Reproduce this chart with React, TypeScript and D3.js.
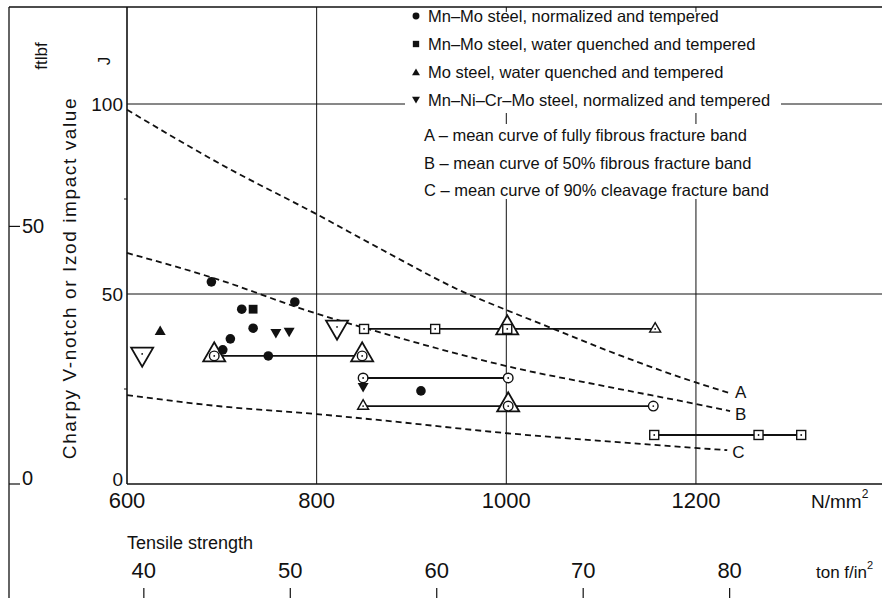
import React, { useEffect, useRef } from 'react';
import * as d3 from 'd3';

// tensile strength, N/mm2  /  impact value, J
const curveA: [number, number][] = [[600, 98.5], [700, 84], [800, 71], [870, 61.5], [955, 50.5], [1000, 45.8], [1045, 41.3], [1113, 34.5], [1199, 26.8], [1236, 23.9]];
const curveB: [number, number][] = [[600, 60.8], [700, 53.5], [782, 46.3], [888, 38.4], [999, 31.1], [1113, 25.3], [1199, 21.1], [1236, 19.2]];
const curveC: [number, number][] = [[600, 23.4], [700, 20.4], [800, 18.4], [867, 16.8], [999, 13.4], [1113, 11.1], [1199, 9.5], [1233, 8.9]];
const curveNames = ['A', 'B', 'C'];

// filled symbols
const mnMoNormalized: [number, number][] = [[689, 53.2], [721, 46], [777, 47.9], [733, 41], [709, 38.2], [701, 35.3], [749, 33.7], [910, 24.5]];
const mnMoQuenched: [number, number][] = [[733, 46]];
const moQuenched: [number, number][] = [[635, 40.3]];
const mnNiCrMoNormalized: [number, number][] = [[757, 39.7], [771, 40], [849, 25.5]];

// scatter bands (horizontal lines) with open symbols
const bandLevel = [40.8, 33.7, 27.9, 20.5, 12.9];
const bandFrom = [850, 692, 849, 849, 1156];
const bandTo = [1157, 848, 1002, 1155, 1311];
const openSquares: [number, number][] = [[850, 40.8], [925, 40.8], [1001, 40.8], [1156, 12.9], [1266, 12.9], [1311, 12.9]];
const openCircles: [number, number][] = [[692, 33.7], [848, 33.7], [849, 27.9], [1002, 27.9], [1002, 20.5], [1155, 20.5]];
const smallTriangles: [number, number][] = [[1157, 40.8], [849, 20.5]];
const bigTriangles: [number, number][] = [[1001, 40.8], [692, 33.7], [848, 33.7], [1002, 20.5]];
const bigDownTriangles: [number, number][] = [[616, 33.7], [821.5, 40.8]];

const xTicks = [600, 800, 1000, 1200];
const jTicks = [0, 50, 100];
const ftlbfTicks = [0, 50];
const tonfTicks = [40, 50, 60, 70, 80];

const legendSymbols = ['circle', 'square', 'triangle', 'triangleDown'];
const legendLabels = [
  'Mn\u2013Mo steel, normalized and tempered',
  'Mn\u2013Mo steel, water quenched and tempered',
  'Mo steel, water quenched and tempered',
  'Mn\u2013Ni\u2013Cr\u2013Mo steel, normalized and tempered',
];
const curveLabels = [
  'A \u2013 mean curve of fully fibrous fracture band',
  'B \u2013 mean curve of 50% fibrous fracture band',
  'C \u2013 mean curve of 90% cleavage fracture band',
];

const W = 882;
const H = 598;
const FONT = '"Liberation Sans", Arial, Helvetica, sans-serif';
const TONF = 15.444; // N/mm2 per tonf/in2
const FTLBF = 1.35582; // J per ftlbf

export default function App() {
  const ref = useRef<SVGSVGElement | null>(null);

  useEffect(() => {
    if (!ref.current) return;
    const svg = d3.select(ref.current);
    svg.selectAll('*').remove();

    const x = d3.scaleLinear().domain([600, 1400]).range([127, 885.6]);
    const y = d3.scaleLinear().domain([0, 100]).range([484, 104]);
    const x0 = x(600);
    const y0 = y(0);

    svg.append('rect').attr('width', W).attr('height', H).attr('fill', '#fff');

    const ink = '#111';

    // outer frame
    svg.append('line').attr('x1', 9).attr('x2', 9).attr('y1', 7).attr('y2', H).attr('stroke', ink).attr('stroke-width', 1.3);
    svg.append('line').attr('x1', 9).attr('x2', W).attr('y1', 7).attr('y2', 7).attr('stroke', ink).attr('stroke-width', 1.3);

    // grid
    const grid = svg.append('g').attr('stroke', ink).attr('stroke-width', 1);
    xTicks.slice(1).forEach(v => {
      grid.append('line').attr('x1', x(v)).attr('x2', x(v)).attr('y1', 7).attr('y2', y0);
    });
    grid.append('line').attr('x1', x0).attr('x2', W).attr('y1', y(50)).attr('y2', y(50));
    grid.append('line').attr('x1', x0).attr('x2', W).attr('y1', y(100)).attr('y2', y(100));

    // legend blocks hide the grid behind text
    svg.append('rect').attr('x', 405).attr('y', 12).attr('width', W - 405).attr('height', 83).attr('fill', '#fff');
    svg.append('rect').attr('x', 405).attr('y', 90).attr('width', 376).attr('height', 23).attr('fill', '#fff');
    svg.append('rect').attr('x', 418).attr('y', 124).attr('width', W - 418).attr('height', 75).attr('fill', '#fff');

    // axes lines
    svg.append('line').attr('x1', x0).attr('x2', x0).attr('y1', 7).attr('y2', y0).attr('stroke', ink).attr('stroke-width', 1.6);
    svg.append('line').attr('x1', x0).attr('x2', W).attr('y1', y0).attr('y2', y0).attr('stroke', ink).attr('stroke-width', 1.6);

    const txt = (px: number, py: number, s: string, size: number, anchor = 'start') =>
      svg.append('text').attr('x', px).attr('y', py).attr('font-family', FONT).attr('font-size', size)
        .attr('fill', ink).attr('text-anchor', anchor).attr('dominant-baseline', 'central').text(s);

    // J axis
    jTicks.forEach(v => {
      txt(123, Math.min(y(v), y0 - 5), String(v), 19, 'end');
    });
    [25, 75].forEach(v => {
      svg.append('line').attr('x1', x0 - 3).attr('x2', x0).attr('y1', y(v)).attr('y2', y(v)).attr('stroke', ink);
    });
    svg.append('text').attr('transform', `translate(104,61) rotate(-90)`).attr('font-family', FONT).attr('font-size', 17)
      .attr('text-anchor', 'middle').attr('dominant-baseline', 'central').attr('fill', ink).text('J');

    // ft lbf axis
    ftlbfTicks.forEach(v => {
      const py = y(v * FTLBF);
      svg.append('line').attr('x1', 9).attr('x2', 20).attr('y1', py).attr('y2', py).attr('stroke', ink).attr('stroke-width', 1.2);
      txt(22, Math.min(py, y0 - 6), String(v), 20);
    });
    svg.append('text').attr('transform', `translate(41,56) rotate(-90)`).attr('font-family', FONT).attr('font-size', 17)
      .attr('text-anchor', 'middle').attr('dominant-baseline', 'central').attr('fill', ink).text('ftlbf');

    svg.append('text').attr('transform', `translate(69,278) rotate(-90)`).attr('font-family', FONT).attr('font-size', 19)
      .attr('letter-spacing', 1.6)
      .attr('text-anchor', 'middle').attr('dominant-baseline', 'central').attr('fill', ink)
      .text('Charpy V-notch or Izod impact value');

    // x axis
    xTicks.forEach(v => txt(x(v), 500, String(v), 22, 'middle'));
    const nmm = txt(811, 501, 'N/mm', 19);
    nmm.append('tspan').attr('dy', -7).attr('font-size', 12).text('2');

    txt(127, 543, 'Tensile strength', 18);
    tonfTicks.forEach(v => {
      const px = x(v * TONF);
      txt(px, 570, String(v), 22, 'middle');
      svg.append('line').attr('x1', px).attr('x2', px).attr('y1', 588).attr('y2', H).attr('stroke', ink).attr('stroke-width', 1.2);
    });
    const tonf = txt(816, 572, 'ton f/in', 17);
    tonf.append('tspan').attr('dy', -7).attr('font-size', 11).text('2');

    // curves
    const line = d3.line<[number, number]>().x(d => x(d[0])).y(d => y(d[1])).curve(d3.curveMonotoneX);
    const labelDy = [-1, 3, 2];
    [curveA, curveB, curveC].forEach((c, i) => {
      svg.append('path').attr('d', line(c)).attr('fill', 'none').attr('stroke', ink)
        .attr('stroke-width', 1.8).attr('stroke-dasharray', '6,4');
      const last = c[c.length - 1];
      txt(x(last[0]) + 5, y(last[1]) + labelDy[i], curveNames[i], 17);
    });

    // bands
    bandLevel.forEach((v, i) => {
      svg.append('line').attr('x1', x(bandFrom[i])).attr('x2', x(bandTo[i])).attr('y1', y(v)).attr('y2', y(v))
        .attr('stroke', ink).attr('stroke-width', 1.8);
    });

    const dot = (px: number, py: number) =>
      svg.append('circle').attr('cx', px).attr('cy', py).attr('r', 0.9).attr('fill', ink);
    const triPath = (s: number, down = false) => {
      const h = s * Math.sqrt(3) / 2;
      return down
        ? `M${-s / 2},${-h / 3} L${s / 2},${-h / 3} L0,${(2 * h) / 3} Z`
        : `M${-s / 2},${h / 3} L${s / 2},${h / 3} L0,${(-2 * h) / 3} Z`;
    };

    bigTriangles.forEach(([a, b]) => {
      svg.append('path').attr('d', triPath(22)).attr('transform', `translate(${x(a)},${y(b) - 1})`)
        .attr('fill', '#fff').attr('stroke', ink).attr('stroke-width', 1.8);
    });
    bigDownTriangles.forEach(([a, b]) => {
      svg.append('path').attr('d', triPath(22, true)).attr('transform', `translate(${x(a)},${y(b) - 2})`)
        .attr('fill', '#fff').attr('stroke', ink).attr('stroke-width', 1.8);
      dot(x(a), y(b) - 2);
    });
    smallTriangles.forEach(([a, b]) => {
      svg.append('path').attr('d', triPath(11)).attr('transform', `translate(${x(a)},${y(b)})`)
        .attr('fill', '#fff').attr('stroke', ink).attr('stroke-width', 1.4);
      dot(x(a), y(b));
    });
    openSquares.forEach(([a, b]) => {
      svg.append('rect').attr('x', x(a) - 4.5).attr('y', y(b) - 4.5).attr('width', 9).attr('height', 9)
        .attr('fill', '#fff').attr('stroke', ink).attr('stroke-width', 1.4);
      dot(x(a), y(b));
    });
    openCircles.forEach(([a, b]) => {
      svg.append('circle').attr('cx', x(a)).attr('cy', y(b)).attr('r', 4.8)
        .attr('fill', '#fff').attr('stroke', ink).attr('stroke-width', 1.4);
      dot(x(a), y(b));
    });

    // filled symbols
    const drawSymbol = (kind: string, px: number, py: number, s = 1) => {
      if (kind === 'circle') svg.append('circle').attr('cx', px).attr('cy', py).attr('r', 4.8 * s).attr('fill', ink);
      if (kind === 'square') svg.append('rect').attr('x', px - 4.4 * s).attr('y', py - 4.4 * s)
        .attr('width', 8.8 * s).attr('height', 8.8 * s).attr('fill', ink);
      if (kind === 'triangle') svg.append('path').attr('d', triPath(11 * s)).attr('transform', `translate(${px},${py + 1})`).attr('fill', ink);
      if (kind === 'triangleDown') svg.append('path').attr('d', triPath(11 * s, true)).attr('transform', `translate(${px},${py - 1})`).attr('fill', ink);
    };
    mnMoNormalized.forEach(([a, b]) => drawSymbol('circle', x(a), y(b)));
    mnMoQuenched.forEach(([a, b]) => drawSymbol('square', x(a), y(b)));
    moQuenched.forEach(([a, b]) => drawSymbol('triangle', x(a), y(b)));
    mnNiCrMoNormalized.forEach(([a, b]) => drawSymbol('triangleDown', x(a), y(b)));

    // legend
    const legendY = [16, 44, 72, 100];
    legendLabels.forEach((s, i) => {
      drawSymbol(legendSymbols[i], 416, legendY[i], 0.72);
      txt(428, legendY[i], s, 16.5);
    });
    const curveY = [135, 163, 190];
    curveLabels.forEach((s, i) => txt(424, curveY[i], s, 16.5));
  }, []);

  return (
    <div>
      <style>{'body{margin:0}'}</style>
      <svg ref={ref} width={W} height={H} style={{ display: 'block' }} />
    </div>
  );
}
